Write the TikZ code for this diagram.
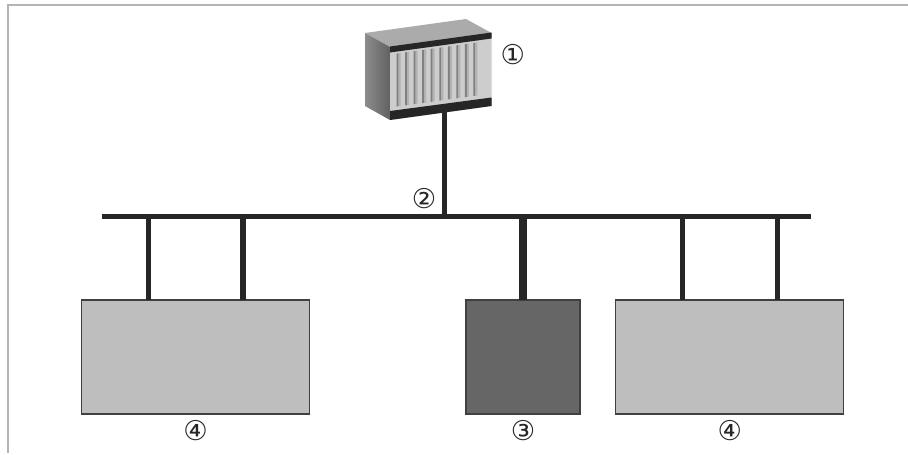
\documentclass[tikz,border=0pt]{standalone}
\usepackage{fontspec}
\setmainfont{DejaVu Sans}
\usepackage{xcolor}
\usetikzlibrary{positioning,calc}
\definecolor{busblack}{HTML}{262626}
\definecolor{framegray}{HTML}{B4B4B4}
\definecolor{unitgray}{HTML}{BEBEBE}
\definecolor{masterdark}{HTML}{666666}
\definecolor{rackfront}{HTML}{CDCDCD}
\definecolor{racktop}{HTML}{ABABAB}
\definecolor{rackside}{HTML}{777777}
\tikzset{
  unit/.style={draw=black!75, line width=0.6pt, fill=unitgray, inner sep=0pt, outer sep=0pt, minimum width=4.56cm, minimum height=2.28cm},
  master/.style={unit, fill=masterdark, minimum width=2.28cm},
  callout/.style={inner sep=0pt, font=\fontsize{15.5}{16}\selectfont, text=black!85},
  wire/.style={draw=busblack, line width=3pt},
  thickwire/.style={draw=busblack, line width=4pt}
}
\begin{document}
\begin{tikzpicture}[x=0.02cm, y=-0.02cm]
  \useasboundingbox (0,0) rectangle (908,454);
  % Frame
  \draw[framegray, line width=0.9pt] (8,453) -- (8,5) -- (908,5);

  % Rack
  \fill[racktop] (365,33) -- (466,19) -- (491.5,33) -- (390,47) -- cycle;
  \shade[left color=black!45, right color=black!62] (365,33) -- (390,47) -- (390,120) -- (365,106) -- cycle;
  \fill[rackfront] (390,47) -- (491.5,33) -- (491.5,106) -- (390,120) -- cycle;
  \fill[busblack] (390,46.5) -- (491.5,32.5) -- (491.5,38.5) -- (390,52.5) -- cycle;
  \fill[busblack] (390,111) -- (491.5,97.5) -- (491.5,106) -- (390,120) -- cycle;
  \foreach \i in {0,...,9} {
    \pgfmathsetmacro{\sx}{396.5+8.55*\i}
    \pgfmathsetmacro{\st}{53.6-1.18*\i}
    \fill[black!50] (\sx,\st) -- ++(2,-0.3) -- ++(0,53) -- ++(-2,0.3) -- cycle;
    \fill[black!30] (\sx+2,\st-0.3) -- ++(2,-0.3) -- ++(0,53) -- ++(-2,0.3) -- cycle;
  }

  % Bus
  \coordinate (busL) at (102,216.5);
  \coordinate (busR) at (811,216.5);
  \coordinate (rackfoot) at (444.3,112);
  \draw[wire] (busL) -- (busR);
  \draw[wire] (rackfoot) -- (rackfoot |- busL);

  % Units
  \node[unit, anchor=north west] (unitL) at (81.5,300) {};
  \node[master, anchor=north west] (masterM) at (466,300) {};
  \node[unit, anchor=north west] (unitR) at (615.7,300) {};

  % Stubs
  \coordinate (tapLa) at (148.3,300);
  \coordinate (tapLb) at (243,300);
  \coordinate (tapRa) at (682.7,300);
  \coordinate (tapRb) at (777.3,300);
  \foreach \tap in {tapLa,tapLb,tapRa,tapRb}
    \draw[wire] (\tap |- busL) -- (\tap);
  \draw[thickwire] (masterM.north |- busL) -- (masterM.north);

  % Labels
  \node[callout] (lblrack) at (512.7,54.3) {①};
  \node[callout] (lblbus) at (424,199) {②};
  \node[callout] (lblunitL) at (195.5,431) {④};
  \node[callout] (lblmaster) at (523,431) {③};
  \node[callout] (lblunitR) at (729.7,431) {④};
\end{tikzpicture}
\end{document}
